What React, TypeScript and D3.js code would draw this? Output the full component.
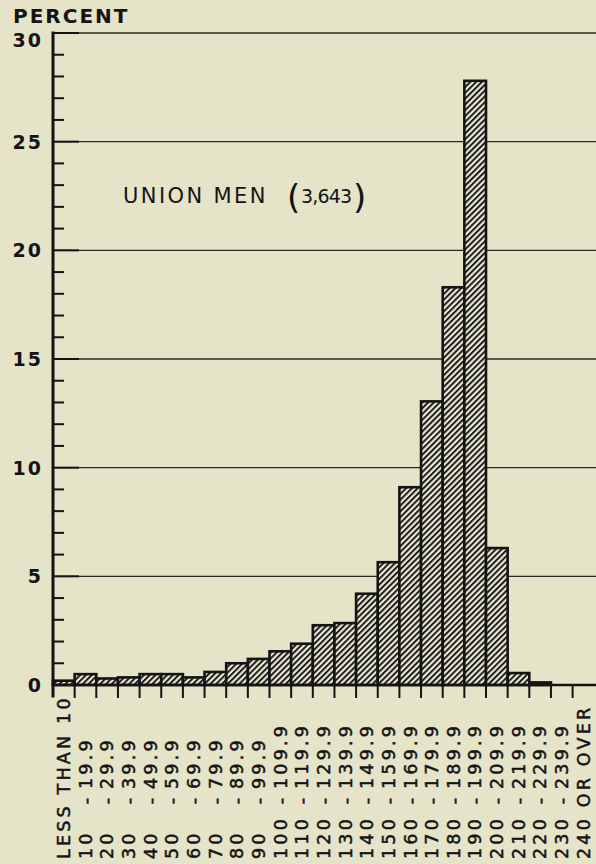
import { useEffect, useRef } from "react";
import * as d3 from "d3";

// percent of union men by hourly wage class (cents)
const binStarts = [
  "LESS THAN 10", "10", "20", "30", "40", "50", "60", "70", "80", "90", "100",
  "110", "120", "130", "140", "150", "160", "170", "180", "190", "200", "210",
  "220", "230", "240 OR OVER",
];
const binEnds = [
  "", "19.9", "29.9", "39.9", "49.9", "59.9", "69.9", "79.9", "89.9", "99.9",
  "109.9", "119.9", "129.9", "139.9", "149.9", "159.9", "169.9", "179.9",
  "189.9", "199.9", "209.9", "219.9", "229.9", "239.9", "",
];
const percents = [
  0.2, 0.5, 0.3, 0.35, 0.5, 0.5, 0.35, 0.6, 1.0, 1.2, 1.55, 1.9, 2.75, 2.85,
  4.2, 5.65, 9.1, 13.05, 18.3, 27.8, 6.3, 0.55, 0.12, 0, 0,
];
const majorTicks = [0, 5, 10, 15, 20, 25, 30];
const minorTicks = d3.range(0, 31);

const W = 596;
const H = 864;
const BG = "#e5e3c8";
const INK = "#141414";
const FONT = "DejaVu Sans, sans-serif";

export default function App() {
  const svgRef = useRef<SVGSVGElement>(null);

  useEffect(() => {
    if (!svgRef.current) return;
    const svg = d3.select(svgRef.current);
    svg.selectAll("*").remove();

    const x0 = 53;
    const x = d3
      .scaleBand<number>()
      .domain(d3.range(percents.length))
      .range([x0, x0 + 21.65 * percents.length])
      .padding(0);
    const y = d3.scaleLinear().domain([0, 30]).range([685, 33]);

    svg.append("rect").attr("width", W).attr("height", H).attr("fill", BG);

    // hatch pattern
    const pat = svg
      .append("defs")
      .append("pattern")
      .attr("id", "hatch")
      .attr("patternUnits", "userSpaceOnUse")
      .attr("width", 4.1)
      .attr("height", 8)
      .attr("patternTransform", "rotate(45)");
    pat.append("rect").attr("width", 4.1).attr("height", 8).attr("fill", "#ebe9d4");
    pat
      .append("line")
      .attr("x1", 1)
      .attr("x2", 1)
      .attr("y1", 0)
      .attr("y2", 8)
      .attr("stroke", INK)
      .attr("stroke-width", 1.9);

    // grid lines
    svg
      .append("g")
      .selectAll("line")
      .data(majorTicks.filter((d) => d > 0))
      .enter()
      .append("line")
      .attr("x1", x0)
      .attr("x2", W)
      .attr("y1", (d) => y(d))
      .attr("y2", (d) => y(d))
      .attr("stroke", "#2a2a22")
      .attr("stroke-width", 1.3);

    // bars
    svg
      .append("g")
      .selectAll("rect")
      .data(percents)
      .enter()
      .append("rect")
      .attr("display", (d) => (d > 0 ? null : "none"))
      .attr("x", (_, i) => x(i)!)
      .attr("y", (d) => y(d))
      .attr("width", x.bandwidth())
      .attr("height", (d) => y(0) - y(d))
      .attr("fill", "url(#hatch)")
      .attr("stroke", INK)
      .attr("stroke-width", 2.6);

    // axes
    const ax = svg.append("g").attr("stroke", INK).attr("stroke-linecap", "square");
    ax.append("line")
      .attr("x1", x0)
      .attr("x2", x0)
      .attr("y1", y(30))
      .attr("y2", y(0) + 11)
      .attr("stroke-width", 3);
    ax.append("line")
      .attr("x1", x0)
      .attr("x2", W)
      .attr("y1", y(0))
      .attr("y2", y(0))
      .attr("stroke-width", 2.6);
    ax.selectAll(".minor")
      .data(minorTicks)
      .enter()
      .append("line")
      .attr("x1", x0)
      .attr("x2", (d) => (d % 5 === 0 ? x0 + 25 : x0 + 10))
      .attr("y1", (d) => y(d))
      .attr("y2", (d) => y(d))
      .attr("stroke-width", 2);
    ax.selectAll(".xtick")
      .data(d3.range(1, percents.length))
      .enter()
      .append("line")
      .attr("x1", (d) => x(d)!)
      .attr("x2", (d) => x(d)!)
      .attr("y1", y(0))
      .attr("y2", y(0) + 12)
      .attr("stroke-width", 2);

    // y tick labels
    svg
      .append("g")
      .selectAll("text")
      .data(majorTicks)
      .enter()
      .append("text")
      .attr("x", 43)
      .attr("y", (d) => Math.max(y(d), 40))
      .attr("dy", "0.36em")
      .attr("text-anchor", "end")
      .attr("font-family", FONT)
      .attr("font-weight", "bold")
      .attr("font-size", 19)
      .attr("letter-spacing", 2)
      .attr("fill", INK)
      .text((d) => d);

    svg
      .append("text")
      .attr("x", 13)
      .attr("y", 23)
      .attr("font-family", FONT)
      .attr("font-weight", "bold")
      .attr("font-size", 20)
      .attr("letter-spacing", 2)
      .attr("fill", INK)
      .text("PERCENT");

    // title
    const t = svg
      .append("g")
      .attr("font-family", FONT)
      .attr("fill", INK);
    t.append("text")
      .attr("x", 123)
      .attr("y", 203)
      .attr("font-size", 21)
      .attr("letter-spacing", 2.4)
      .text("UNION MEN");
    t.append("text")
      .attr("x", 287)
      .attr("y", 209)
      .attr("font-size", 34)
      .text("(");
    t.append("text")
      .attr("x", 301)
      .attr("y", 203)
      .attr("font-size", 19)
      .attr("letter-spacing", -0.8)
      .text("3,643");
    t.append("text")
      .attr("x", 353)
      .attr("y", 209)
      .attr("font-size", 34)
      .text(")");

    // x labels, rotated
    const xl = svg
      .append("g")
      .attr("font-family", FONT)
      .attr("font-size", 17.5)
      .attr("letter-spacing", 3.2)
      .attr("fill", INK)
      .attr("stroke", INK)
      .attr("stroke-width", 0.5);
    const cols = xl
      .selectAll("g")
      .data(binStarts)
      .enter()
      .append("g")
      .attr("transform", (_, i) => `translate(${x(i)! + x.bandwidth() / 2},0)`);
    cols
      .append("text")
      .attr("transform", "translate(0,859) rotate(-90)")
      .attr("dy", "0.36em")
      .text((d) => d);
    cols
      .filter((_, i) => binEnds[i] !== "")
      .append("text")
      .attr("transform", "translate(0,801) rotate(-90)")
      .attr("dy", "0.36em")
      .attr("text-anchor", "middle")
      .attr("letter-spacing", 0)
      .text("-");
    cols
      .append("text")
      .attr("transform", "translate(0,789) rotate(-90)")
      .attr("dy", "0.36em")
      .text((_, i) => binEnds[i]);

    return () => {
      svg.selectAll("*").remove();
    };
  }, []);

  return (
    <svg
      ref={svgRef}
      width={W}
      height={H}
      style={{ position: "absolute", left: 0, top: 0 }}
    />
  );
}
